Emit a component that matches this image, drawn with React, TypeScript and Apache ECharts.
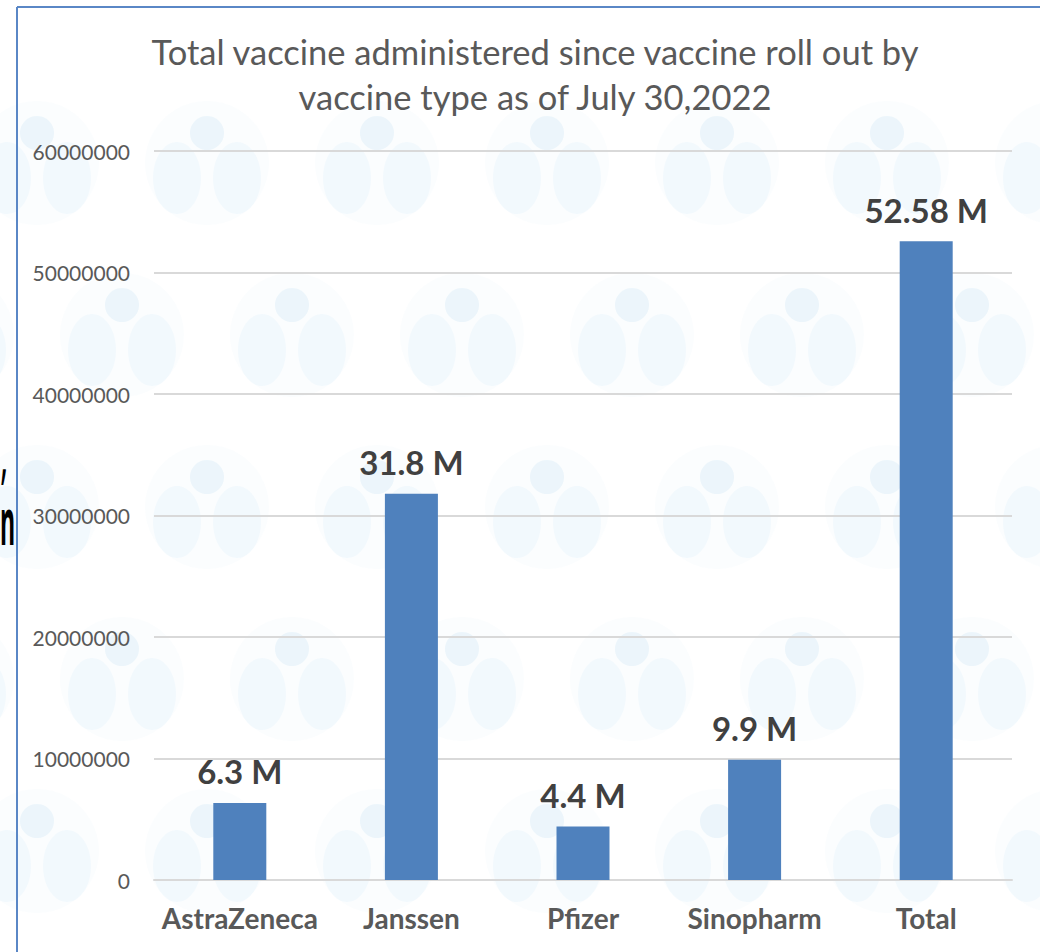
import React, { useEffect, useRef } from "react";
import * as echarts from "echarts";

const categories = ["AstraZeneca", "Janssen", "Pfizer", "Sinopharm", "Total"];
const doses = [6340000, 31800000, 4400000, 9900000, 52580000];
const doseLabels = ["6.3 M", "31.8 M", "4.4 M", "9.9 M", "52.58 M"];
const titleLines = [
  "Total vaccine administered since vaccine roll out by",
  "vaccine type as of July 30,2022",
];

const FONT = "Lato, 'Open Sans', sans-serif";

function watermark() {
  const els: any[] = [];
  for (let k = 0; k < 6; k++) {
    const y = 133 + 172 * k;
    const off = k % 2 === 1 ? 85 : 0;
    for (let j = -1; j < 7; j++) {
      const x = 37 + 170 * j + off;
      els.push({
        type: "circle",
        silent: true,
        z: -10,
        shape: { cx: x, cy: y + 30, r: 62 },
        style: { fill: "rgba(220,236,248,0.12)" },
      });
      els.push({
        type: "circle",
        silent: true,
        z: -9,
        shape: { cx: x, cy: y, r: 17 },
        style: { fill: "rgba(190,222,244,0.24)" },
      });
      els.push({
        type: "ellipse",
        silent: true,
        z: -9,
        shape: { cx: x - 30, cy: y + 45, rx: 24, ry: 36 },
        style: { fill: "rgba(200,228,246,0.16)" },
      });
      els.push({
        type: "ellipse",
        silent: true,
        z: -9,
        shape: { cx: x + 30, cy: y + 45, rx: 24, ry: 36 },
        style: { fill: "rgba(200,228,246,0.16)" },
      });
    }
  }
  return els;
}

export default function App() {
  const ref = useRef<HTMLDivElement>(null);
  useEffect(() => {
    if (!ref.current) return;
    const chart = echarts.init(ref.current, undefined, { renderer: "svg" });
    chart.setOption({
      animation: false,
      backgroundColor: "#ffffff",
      title: {
        text: titleLines.join("\n"),
        left: 530,
        top: 24,
        textAlign: "center",
        textStyle: {
          fontFamily: FONT,
          fontSize: 34.5,
          fontWeight: "normal",
          color: "#595959",
          lineHeight: 45,
        },
      },
      grid: { left: 154, right: 28, top: 151, bottom: 72 },
      xAxis: {
        type: "category",
        data: categories,
        axisLine: { show: true, lineStyle: { color: "#d9d9d9", width: 2 } },
        axisTick: { show: false },
        axisLabel: {
          interval: 0,
          margin: 24,
          fontFamily: FONT,
          fontSize: 28,
          fontWeight: "bold",
          color: "#595959",
        },
      },
      yAxis: {
        type: "value",
        min: 0,
        max: 60000000,
        interval: 10000000,
        axisLine: { show: false },
        axisTick: { show: false },
        splitLine: { lineStyle: { color: "#d9d9d9", width: 2 } },
        axisLabel: {
          margin: 24,
          fontFamily: FONT,
          fontSize: 21,
          color: "#595959",
          formatter: (v: number) => String(v),
        },
      },
      graphic: [
        ...watermark(),
        {
          type: "line",
          silent: true,
          z: 100,
          shape: { x1: 17, y1: 7, x2: 1045, y2: 7 },
          style: { stroke: "#5a87c6", lineWidth: 2 },
        },
        {
          type: "line",
          silent: true,
          z: 100,
          shape: { x1: 17, y1: 7, x2: 17, y2: 960 },
          style: { stroke: "#5a87c6", lineWidth: 2 },
        },
        {
          type: "text",
          silent: true,
          z: 100,
          x: 0,
          y: 452,
          scaleX: 0.5,
          style: {
            text: ",",
            fontFamily: "'Open Sans', sans-serif",
            fontSize: 64,
            fill: "#000000",
            verticalAlign: "middle",
          },
        },
        {
          type: "text",
          silent: true,
          z: 100,
          x: 0,
          y: 520,
          scaleX: 0.36,
          style: {
            text: "n",
            fontFamily: "'Open Sans', sans-serif",
            fontSize: 64,
            fontWeight: "bold",
            fill: "#000000",
            verticalAlign: "middle",
          },
        },
      ],
      series: [
        {
          type: "bar",
          data: doses,
          barWidth: 53,
          itemStyle: { color: "#4f81bd" },
          label: {
            show: true,
            position: "top",
            distance: 15,
            fontFamily: FONT,
            fontSize: 33,
            fontWeight: "bold",
            color: "#404040",
            formatter: (p: any) => doseLabels[p.dataIndex],
          },
        },
      ],
    });
    return () => chart.dispose();
  }, []);
  return (
    <div
      ref={ref}
      style={{ position: "absolute", left: 0, top: 0, width: 1040, height: 952 }}
    />
  );
}
